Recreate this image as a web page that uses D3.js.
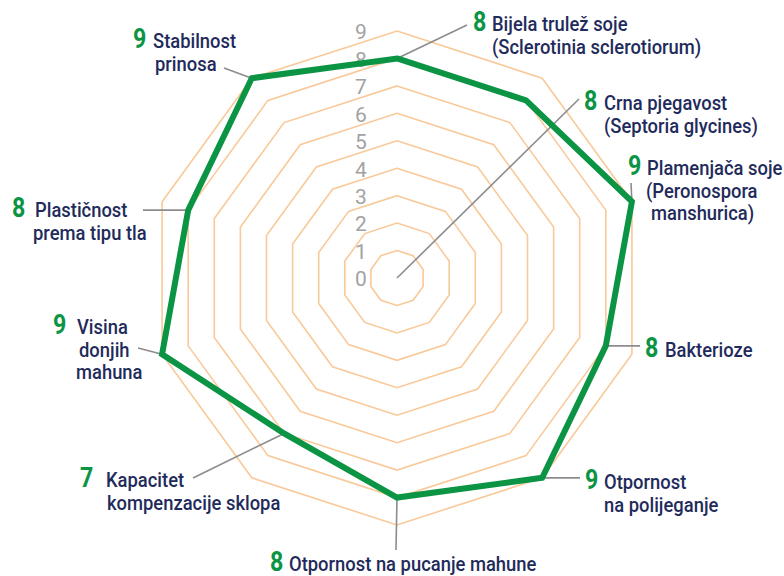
<!DOCTYPE html>
<html>
<head>
<meta charset="utf-8">
<script src="https://cdn.jsdelivr.net/npm/d3@7"></script>
<style>
  body { margin: 0; background: #fff; }
  text { font-family: Roboto, "Liberation Sans", sans-serif; }
</style>
</head>
<body>
<div id="chart"></div>
<script>
    // ocjene sorte po svojstvima, od vrha u smjeru kazaljke na satu
    var categories = [
        ["Bijela trulež soje", "(Sclerotinia sclerotiorum)"],
        ["Crna pjegavost", "(Septoria glycines)"],
        ["Plamenjača soje", "(Peronospora", "manshurica)"],
        ["Bakterioze"],
        ["Otpornost", "na polijeganje"],
        ["Otpornost na pucanje mahune"],
        ["Kapacitet", "kompenzacije sklopa"],
        ["Visina", "donjih", "mahuna"],
        ["Plastičnost", "prema tipu tla"],
        ["Stabilnost", "prinosa"]
    ]
    var scores = [8, 8, 9, 8, 9, 8, 7, 9, 8, 9]
    var tickLabels = [0, 1, 2, 3, 4, 5, 6, 7, 8, 9]

    // where the labels sit: number x, text x, first baseline, extra x per line
    var labelLayout = [
        {nx: 473, tx: 492, y: 31},
        {nx: 584, tx: 604, y: 110},
        {nx: 628, tx: 647, y: 175, dx: [0, -1, 4]},
        {nx: 645, tx: 665, y: 357},
        {nx: 585, tx: 604, y: 489},
        {nx: 270, tx: 289, y: 571},
        {nx: 80, tx: 106, y: 487, dx: [0, 1]},
        {nx: 53, tx: 77, y: 334, dx: [0, 2, -1]},
        {nx: 12, tx: 35, y: 217, dx: [0, -2]},
        {nx: 133, tx: 153, y: 48, dx: [0, 2]}
    ]
    // leader line ends (null y = keep the point's y), the Crna one starts at the centre
    var leaderEnds = [[467, 25], [579, 99], [631, 183], [640, null], [580, null],
                      [396, 550], [193, 478], [138, 348], [143, null], [224, 68]]
    var leaderFromCenter = [false, true, false, false, false, false, false, false, false, false]

    var width = 784, height = 576
    var cx = 397, cy = 278
    var green = "#0b9444", navy = "#1f2b5b", gridColor = "#f9c999"
    var squeeze = 0.92

    var svg = d3.select("#chart").append("svg")
        .attr("width", width)
        .attr("height", height)

    var r = d3.scaleLinear().domain([0, 9]).range([0, 247])
    var angle = d3.scaleLinear().domain([0, categories.length]).range([0, 2 * Math.PI])

    function pt(i, v) {
        var a = angle(i)
        return [cx + r(v) * Math.sin(a), cy - r(v) * Math.cos(a)]
    }

    var g = svg.append("g")

    // decagon rings 1..9
    var rings = tickLabels.filter(d => d > 0)
    g.selectAll("path.ring")
        .data(rings)
        .join("path")
        .attr("class", "ring")
        .attr("d", k => d3.line()(categories.map((c, i) => pt(i, k))) + "Z")
        .attr("fill", "none")
        .attr("stroke", gridColor)
        .attr("stroke-width", 1.6)

    // tick numbers up the top axis
    g.selectAll("text.tick")
        .data(tickLabels)
        .join("text")
        .attr("class", "tick")
        .attr("x", cx - 36)
        .attr("y", d => cy - r(d) + 1)
        .attr("dy", "0.35em")
        .attr("text-anchor", "middle")
        .attr("font-size", 21)
        .attr("fill", "#a2a2a2")
        .text(d => d)

    // leader lines
    g.selectAll("line.leader")
        .data(scores)
        .join("line")
        .attr("class", "leader")
        .each(function(v, i) {
            var p = leaderFromCenter[i] ? [cx, cy] : pt(i, v)
            var e = leaderEnds[i]
            d3.select(this)
                .attr("x1", p[0]).attr("y1", p[1])
                .attr("x2", e[0]).attr("y2", e[1] == null ? p[1] : e[1])
        })
        .attr("stroke", "#8c8c8c")
        .attr("stroke-width", 1.6)

    // the score polygon
    g.append("path")
        .attr("d", d3.line()(scores.map((v, i) => pt(i, v))) + "Z")
        .attr("fill", "none")
        .attr("stroke", green)
        .attr("stroke-width", 6)
        .attr("stroke-linejoin", "miter")

    // labels
    var labels = g.selectAll("g.label")
        .data(categories)
        .join("g")
        .attr("class", "label")

    labels.append("text")
        .attr("transform", (d, i) => `translate(${labelLayout[i].nx},${labelLayout[i].y}) scale(0.86,1)`)
        .attr("font-size", 27)
        .attr("font-weight", 700)
        .attr("fill", green)
        .text((d, i) => scores[i])

    labels.each(function(lines, i) {
        var L = labelLayout[i]
        d3.select(this).selectAll("text.line")
            .data(lines)
            .join("text")
            .attr("class", "line")
            .attr("transform", (t, j) => `translate(${L.tx + (L.dx ? (L.dx[j] || 0) : 0)},${L.y + j * 22.5}) scale(${squeeze},1)`)
            .attr("font-size", 20)
            .attr("font-weight", 500)
            .attr("fill", navy)
            .text(t => t)
    })
</script>
</body>
</html>
